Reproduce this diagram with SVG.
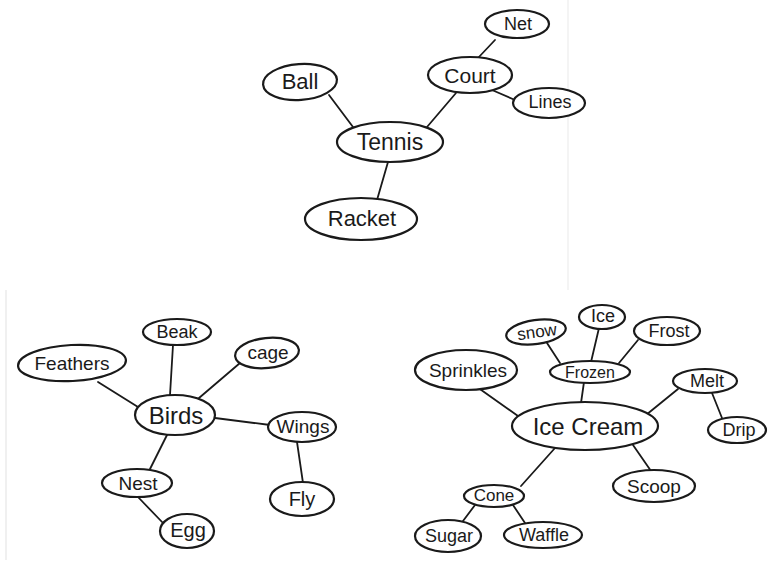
<svg xmlns="http://www.w3.org/2000/svg" width="772" height="575" viewBox="0 0 772 575">
<style>
.n{fill:#fff;stroke:#1a1a1a;stroke-width:2.2}
.t{font-family:"Liberation Sans","DejaVu Sans",sans-serif;fill:#1a1a1a;text-anchor:middle;dominant-baseline:central}
.c line{stroke:#1a1a1a;stroke-width:1.8;stroke-linecap:round}
</style>
<rect width="772" height="575" fill="#fff"/>
<line x1="568" y1="0" x2="568" y2="290" stroke="#f0f0f0" stroke-width="1.5"/>
<line x1="6" y1="290" x2="6" y2="560" stroke="#f0f0f0" stroke-width="2"/>
<g id="connectors" class="c">
<line x1="329" y1="95" x2="353" y2="127"/>
<line x1="456" y1="93" x2="427" y2="127"/>
<line x1="495" y1="40" x2="478" y2="58"/>
<line x1="492" y1="90" x2="515" y2="100"/>
<line x1="388" y1="162" x2="377" y2="200"/>
<line x1="98" y1="382" x2="138" y2="407"/>
<line x1="173" y1="345" x2="170" y2="395"/>
<line x1="240" y1="363" x2="199" y2="398"/>
<line x1="215" y1="418" x2="270" y2="425"/>
<line x1="297" y1="442" x2="303" y2="483"/>
<line x1="167" y1="435" x2="150" y2="469"/>
<line x1="138" y1="497" x2="163" y2="523"/>
<line x1="547" y1="343" x2="560" y2="363"/>
<line x1="599" y1="328" x2="591" y2="362"/>
<line x1="638" y1="340" x2="619" y2="363"/>
<line x1="584" y1="382" x2="581" y2="403"/>
<line x1="477" y1="387" x2="518" y2="416"/>
<line x1="678" y1="389" x2="646" y2="415"/>
<line x1="712" y1="393" x2="722" y2="418"/>
<line x1="633" y1="445" x2="651" y2="471"/>
<line x1="555" y1="448" x2="521" y2="486"/>
<line x1="475" y1="505" x2="463" y2="521"/>
<line x1="513" y1="505" x2="525" y2="523"/>
</g>
<g id="tennis"><ellipse class="n" cx="390" cy="142" rx="53" ry="20"/><text class="t" x="390" y="142" font-size="23">Tennis</text></g>
<g id="ball"><ellipse class="n" cx="300" cy="82" rx="37" ry="18" transform="rotate(-4 300 82)"/><text class="t" x="300" y="81" font-size="22">Ball</text></g>
<g id="court"><ellipse class="n" cx="470" cy="75" rx="42" ry="18"/><text class="t" x="470" y="75" font-size="21">Court</text></g>
<g id="net"><ellipse class="n" cx="517" cy="24" rx="32" ry="14"/><text class="t" x="518" y="24" font-size="18">Net</text></g>
<g id="lines"><ellipse class="n" cx="549" cy="103" rx="36" ry="15"/><text class="t" x="550" y="102" font-size="18">Lines</text></g>
<g id="racket"><ellipse class="n" cx="361" cy="219" rx="56" ry="21"/><text class="t" x="362" y="218" font-size="22">Racket</text></g>
<g id="birds"><ellipse class="n" cx="175" cy="415" rx="40" ry="20"/><text class="t" x="176" y="415" font-size="24">Birds</text></g>
<g id="feathers"><ellipse class="n" cx="72" cy="363" rx="54" ry="18" transform="rotate(-3 72 363)"/><text class="t" x="72" y="363" font-size="19">Feathers</text></g>
<g id="beak"><ellipse class="n" cx="177" cy="332" rx="34" ry="13"/><text class="t" x="177" y="332" font-size="18">Beak</text></g>
<g id="cage"><ellipse class="n" cx="267" cy="353" rx="32" ry="15" transform="rotate(-6 267 353)"/><text class="t" x="268" y="352" font-size="19">cage</text></g>
<g id="wings"><ellipse class="n" cx="302" cy="427" rx="34" ry="15"/><text class="t" x="303" y="426" font-size="19">Wings</text></g>
<g id="fly"><ellipse class="n" cx="302" cy="499" rx="32" ry="17"/><text class="t" x="302" y="499" font-size="20">Fly</text></g>
<g id="nest"><ellipse class="n" cx="137" cy="483" rx="35" ry="14"/><text class="t" x="138" y="483" font-size="19">Nest</text></g>
<g id="egg"><ellipse class="n" cx="187" cy="531" rx="27" ry="17"/><text class="t" x="188" y="530" font-size="20">Egg</text></g>
<g id="icecream"><ellipse class="n" cx="585" cy="426" rx="73" ry="24"/><text class="t" x="588" y="426" font-size="24">Ice Cream</text></g>
<g id="frozen"><ellipse class="n" cx="590" cy="372" rx="40" ry="11"/><text class="t" x="590" y="372" font-size="16">Frozen</text></g>
<g id="snow"><ellipse class="n" cx="536" cy="332" rx="30" ry="12" transform="rotate(-8 536 332)"/><text class="t" x="537" y="332" font-size="17" transform="rotate(-8 537 332)">snow</text></g>
<g id="ice"><ellipse class="n" cx="602" cy="317" rx="23" ry="12"/><text class="t" x="603" y="316" font-size="18">Ice</text></g>
<g id="frost"><ellipse class="n" cx="667" cy="331" rx="33" ry="14"/><text class="t" x="669" y="331" font-size="18">Frost</text></g>
<g id="sprinkles"><ellipse class="n" cx="466" cy="370" rx="51" ry="20"/><text class="t" x="468" y="370" font-size="19">Sprinkles</text></g>
<g id="melt"><ellipse class="n" cx="705" cy="381" rx="32" ry="12"/><text class="t" x="707" y="381" font-size="18">Melt</text></g>
<g id="drip"><ellipse class="n" cx="737" cy="430" rx="29" ry="13"/><text class="t" x="739" y="430" font-size="18">Drip</text></g>
<g id="scoop"><ellipse class="n" cx="654" cy="486" rx="41" ry="16"/><text class="t" x="654" y="486" font-size="19">Scoop</text></g>
<g id="cone"><ellipse class="n" cx="494" cy="496" rx="30" ry="11"/><text class="t" x="494" y="495" font-size="17">Cone</text></g>
<g id="sugar"><ellipse class="n" cx="448" cy="536" rx="33" ry="16"/><text class="t" x="449" y="536" font-size="18">Sugar</text></g>
<g id="waffle"><ellipse class="n" cx="543" cy="535" rx="39" ry="13"/><text class="t" x="544" y="535" font-size="18">Waffle</text></g>
</svg>
